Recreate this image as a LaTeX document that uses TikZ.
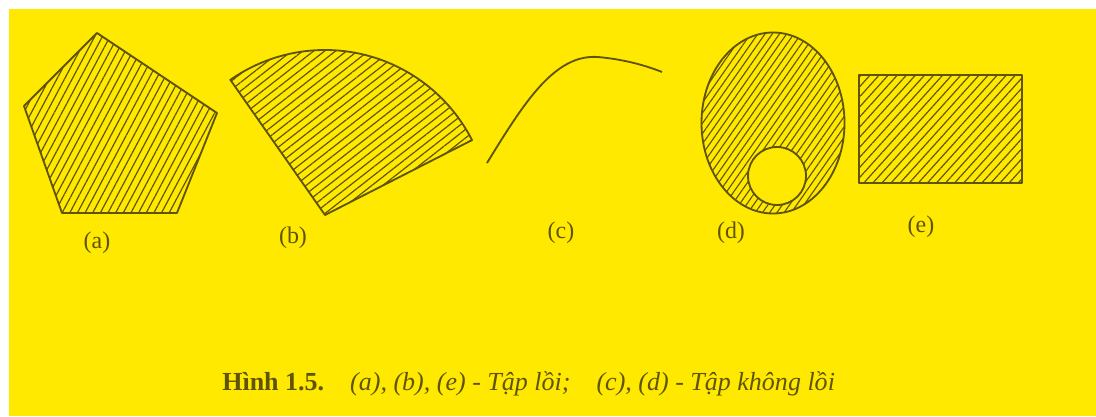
\documentclass[tikz,border=0pt]{standalone}
\usepackage{fontspec}
\setmainfont{Liberation Serif}
\usetikzlibrary{patterns.meta}
\definecolor{paper}{RGB}{255,233,0}
\definecolor{ink}{RGB}{95,84,5}

\begin{document}
\begin{tikzpicture}[
  x=0.025cm, y=0.025cm,
  outline/.style={draw=ink, line width=1.3pt, line join=round},
  hatch/.style={pattern={Lines[angle=#1, distance=4.8pt, line width=0.85pt]}, pattern color=ink},
  denshatch/.style={pattern={Lines[angle=#1, distance=4.2pt, line width=0.8pt]}, pattern color=ink},
  lbl/.style={text=ink, font=\fontsize{17}{19}\selectfont, inner sep=0pt}
]
\useasboundingbox (0,0) rectangle (1096,416);
\fill[paper] (9,0) rectangle (1096,407);

% (a) convex pentagon
\path[outline, hatch=62] (97,383) -- (217,303) -- (177,203) -- (62,203) -- (24,310) -- cycle;
% (b) circular sector
\path[outline, hatch=38] (325,201) -- ++(27:165) arc[start angle=27, end angle=125, radius=165] -- cycle;
% (c) open curve
\draw[outline] (487,253) .. controls (525,315) and (555,362) .. (598,359)
  .. controls (620,357) and (642,352) .. (662,344);
% (d) ellipse with a hole
\path[denshatch=55, even odd rule] (773,293) ellipse[x radius=71.5, y radius=90.5] (777,240) circle[radius=29];
\draw[outline] (773,293) ellipse[x radius=71.5, y radius=90.5];
\draw[outline] (777,240) circle[radius=29];
% (e) rectangle
\path[outline, hatch=48] (859,233) rectangle (1022,341);

\node[lbl] (la) at (97,173) {(a)};
\node[lbl] (lb) at (293,178) {(b)};
\node[lbl] (lc) at (561,183) {(c)};
\node[lbl] (ld) at (731,183) {(d)};
\node[lbl] (le) at (921,189) {(e)};

\node[text=ink, anchor=base west, inner sep=0pt, font=\fontsize{18.5}{20}\selectfont] (cap) at (222,26)
  {\textbf{Hình 1.5.}\hspace{1em}\textit{(a), (b), (e) - Tập lồi;}\hspace{1em}\textit{(c), (d) - Tập không lồi}};
\end{tikzpicture}
\end{document}
